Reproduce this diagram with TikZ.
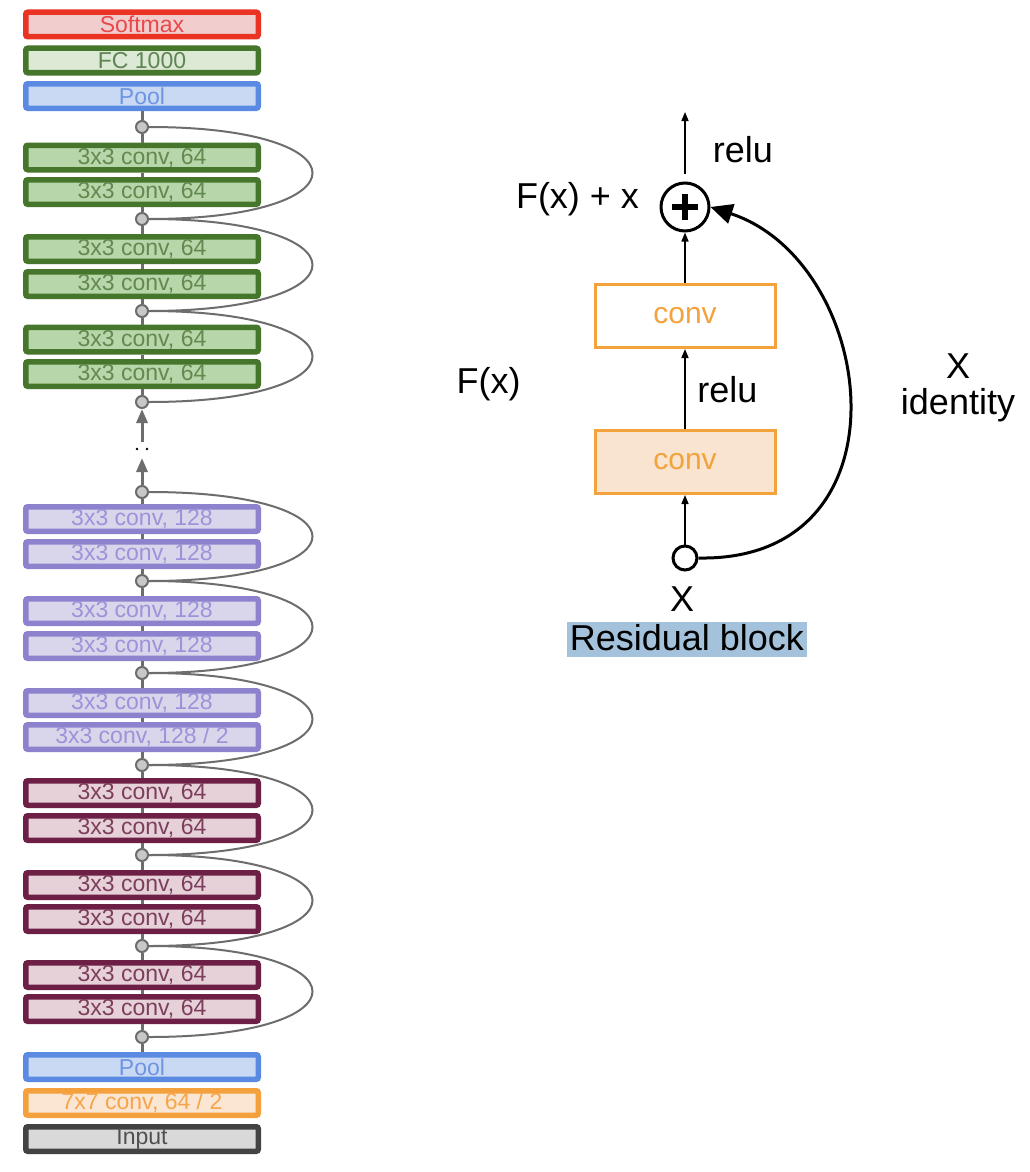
\documentclass[tikz,border=0pt]{standalone}
\usepackage{fontspec}
\setmainfont{Liberation Sans}
\usetikzlibrary{arrows.meta}
\definecolor{smB}{HTML}{EA3323}\definecolor{smF}{HTML}{F1CDCD}\definecolor{smT}{HTML}{E8484A}
\definecolor{fcB}{HTML}{46762C}\definecolor{fcF}{HTML}{DCE9D5}\definecolor{fcT}{HTML}{5E8552}
\definecolor{plB}{HTML}{5A8AE2}\definecolor{plF}{HTML}{C9D9F4}\definecolor{plT}{HTML}{6E95E2}
\definecolor{gB}{HTML}{45762B}\definecolor{gF}{HTML}{B7D6A9}\definecolor{gT}{HTML}{62894F}
\definecolor{pB}{HTML}{8C82CE}\definecolor{pF}{HTML}{D9D6EB}\definecolor{pT}{HTML}{9C93D8}
\definecolor{mB}{HTML}{6D1F45}\definecolor{mF}{HTML}{E7D1D9}\definecolor{mT}{HTML}{7C3E5C}
\definecolor{oB}{HTML}{F3A03D}\definecolor{oF}{HTML}{FBE5D3}\definecolor{oT}{HTML}{F5A54A}
\definecolor{iB}{HTML}{434343}\definecolor{iF}{HTML}{D9D9D9}\definecolor{iT}{HTML}{505050}
\definecolor{trk}{HTML}{6D6D6D}\definecolor{jF}{HTML}{C8C8C8}
\definecolor{cvB}{HTML}{F4A23C}\definecolor{cvF}{HTML}{F9E4D0}\definecolor{hl}{HTML}{A4C2DB}
\begin{document}
\begin{tikzpicture}[x=1pt,y=-1pt,
  lbox/.style n args={3}{rectangle, rounded corners=2pt, line width=5.5pt,
     draw=#1, fill=#2, text=#3, minimum width=232.5pt, minimum height=24.5pt,
     inner sep=0pt, font=\fontsize{23}{23}\selectfont},
  junc/.style={circle, draw=trk, fill=jF, line width=2pt, minimum size=12pt, inner sep=0pt},
  trunk/.style={draw=trk, line width=3pt},
  skip/.style={draw=trk, line width=2pt},
  uparrow/.style={trunk, -{Triangle[length=14pt,width=11pt]}},
  convbox/.style={rectangle, draw=cvB, line width=3pt, minimum width=180pt, minimum height=63pt,
     inner sep=0pt, text=cvB, font=\fontsize{30}{30}\selectfont},
  thinarrow/.style={line width=1.5pt, -{Triangle[length=9pt,width=7pt]}},
  lbl/.style={font=\fontsize{36}{40}\selectfont, anchor=base, inner sep=0pt}]
\useasboundingbox (0,0) rectangle (1030,1172);
\fill[white] (0,0) rectangle (1030,1172);
% ---------- left column ----------
\node[lbox={smB}{smF}{smT}] (sm) at (142,24.5) {Softmax};
\node[lbox={fcB}{fcF}{fcT}] (fc) at (142,60.5) {FC 1000};
\node[lbox={plB}{plF}{plT}] (pool1) at (142,96) {Pool};
\node[lbox={gB}{gF}{gT}] (g1) at (142,157.5) {3x3 conv, 64};
\node[lbox={gB}{gF}{gT}] (g2) at (142,192) {3x3 conv, 64};
\node[lbox={gB}{gF}{gT}] (g3) at (142,249) {3x3 conv, 64};
\node[lbox={gB}{gF}{gT}] (g4) at (142,284) {3x3 conv, 64};
\node[lbox={gB}{gF}{gT}] (g5) at (142,339.5) {3x3 conv, 64};
\node[lbox={gB}{gF}{gT}] (g6) at (142,374) {3x3 conv, 64};
\node[lbox={pB}{pF}{pT}] (p1) at (142,519) {3x3 conv, 128};
\node[lbox={pB}{pF}{pT}] (p2) at (142,554) {3x3 conv, 128};
\node[lbox={pB}{pF}{pT}] (p3) at (142,611) {3x3 conv, 128};
\node[lbox={pB}{pF}{pT}] (p4) at (142,646) {3x3 conv, 128};
\node[lbox={pB}{pF}{pT}] (p5) at (142,703) {3x3 conv, 128};
\node[lbox={pB}{pF}{pT}] (p6) at (142,737) {3x3 conv, 128 / 2};
\node[lbox={mB}{mF}{mT}] (m1) at (142,793) {3x3 conv, 64};
\node[lbox={mB}{mF}{mT}] (m2) at (142,828) {3x3 conv, 64};
\node[lbox={mB}{mF}{mT}] (m3) at (142,885) {3x3 conv, 64};
\node[lbox={mB}{mF}{mT}] (m4) at (142,919) {3x3 conv, 64};
\node[lbox={mB}{mF}{mT}] (m5) at (142,975) {3x3 conv, 64};
\node[lbox={mB}{mF}{mT}] (m6) at (142,1009) {3x3 conv, 64};
\node[lbox={plB}{plF}{plT}] (pool2) at (142,1067) {Pool};
\node[lbox={oB}{oF}{oT}] (c7) at (142,1103) {7x7 conv, 64 / 2};
\node[lbox={iB}{iF}{iT}] (inp) at (142,1139) {Input};
% junctions
\node[junc] (j1) at (142,127) {};
\node[junc] (j2) at (142,219) {};
\node[junc] (j3) at (142,311) {};
\node[junc] (j4) at (142,402) {};
\node[junc] (j5) at (142,492) {};
\node[junc] (j6) at (142,581) {};
\node[junc] (j7) at (142,673) {};
\node[junc] (j8) at (142,765) {};
\node[junc] (j9) at (142,855) {};
\node[junc] (j10) at (142,946) {};
\node[junc] (j11) at (142,1037) {};
\coordinate (d1) at (142,442);
\coordinate (d2) at (142,458);
% trunk segments
\draw[trunk] (pool1.south) -- (j1); \draw[trunk] (j1) -- (g1.north);
\draw[trunk] (g1.south) -- (g2.north);
\draw[trunk] (g2.south) -- (j2); \draw[trunk] (j2) -- (g3.north);
\draw[trunk] (g3.south) -- (g4.north);
\draw[trunk] (g4.south) -- (j3); \draw[trunk] (j3) -- (g5.north);
\draw[trunk] (g5.south) -- (g6.north);
\draw[trunk] (g6.south) -- (j4);
\draw[uparrow] (d1) -- (j4);
\draw[uparrow] (j5) -- (d2);
\draw[trunk] (j5) -- (p1.north);
\draw[trunk] (p1.south) -- (p2.north);
\draw[trunk] (p2.south) -- (j6); \draw[trunk] (j6) -- (p3.north);
\draw[trunk] (p3.south) -- (p4.north);
\draw[trunk] (p4.south) -- (j7); \draw[trunk] (j7) -- (p5.north);
\draw[trunk] (p5.south) -- (p6.north);
\draw[trunk] (p6.south) -- (j8); \draw[trunk] (j8) -- (m1.north);
\draw[trunk] (m1.south) -- (m2.north);
\draw[trunk] (m2.south) -- (j9); \draw[trunk] (j9) -- (m3.north);
\draw[trunk] (m3.south) -- (m4.north);
\draw[trunk] (m4.south) -- (j10); \draw[trunk] (j10) -- (m5.north);
\draw[trunk] (m5.south) -- (m6.north);
\draw[trunk] (m6.south) -- (j11); \draw[trunk] (j11) -- (pool2.north);
% dots
\fill[black] (137,449) circle (1.3pt) (147,449) circle (1.3pt);
% skip connections
\foreach \a/\b in {j1/j2,j2/j3,j3/j4,j5/j6,j6/j7,j7/j8,j8/j9,j9/j10,j10/j11}{
  \draw[skip] (\a.east) .. controls +(218,0) and +(218,0) .. (\b.east);
}
% ---------- residual block ----------
\node[convbox, fill=white] (cv2) at (685,316) {conv};
\node[convbox, fill=cvF] (cv1) at (685,462) {conv};
\node[circle, draw=black, line width=3pt, minimum size=48pt, inner sep=0pt, fill=white] (add) at (685,207) {};
\draw[line width=6pt] ([xshift=-13pt]add.center) -- ([xshift=13pt]add.center);
\draw[line width=6pt] ([yshift=-13pt]add.center) -- ([yshift=13pt]add.center);
\node[circle, draw=black, line width=3pt, minimum size=24pt, inner sep=0pt, fill=white] (xin) at (685,558) {};
\coordinate (outp) at (685,112);
\draw[thinarrow] (xin) -- (cv1);
\draw[thinarrow] (cv1) -- (cv2);
\draw[thinarrow] (cv2) -- (add);
\draw[thinarrow, shorten <=8pt] (add) -- (outp);
\draw[line width=3pt, -{Triangle[length=22pt,width=20pt]}]
  (xin.east) .. controls (915,562) and (878,262) .. (add.east);
% labels
\node[lbl] (relu1) at (743,162) {relu};
\node[lbl] (fxx) at (577.5,208) {F(x) + x};
\node[lbl] (relu2) at (727.5,402) {relu};
\node[lbl] (fx) at (488.5,393) {F(x)};
\node[lbl] (xid) at (958,378) {X};
\node[lbl] (ident) at (958,414) {identity};
\node[lbl] (xlab) at (682,611) {X};
\fill[hl] (567,622) rectangle (807,657);
\node[lbl] (rb) at (687,650) {Residual block};
\end{tikzpicture}
\end{document}
